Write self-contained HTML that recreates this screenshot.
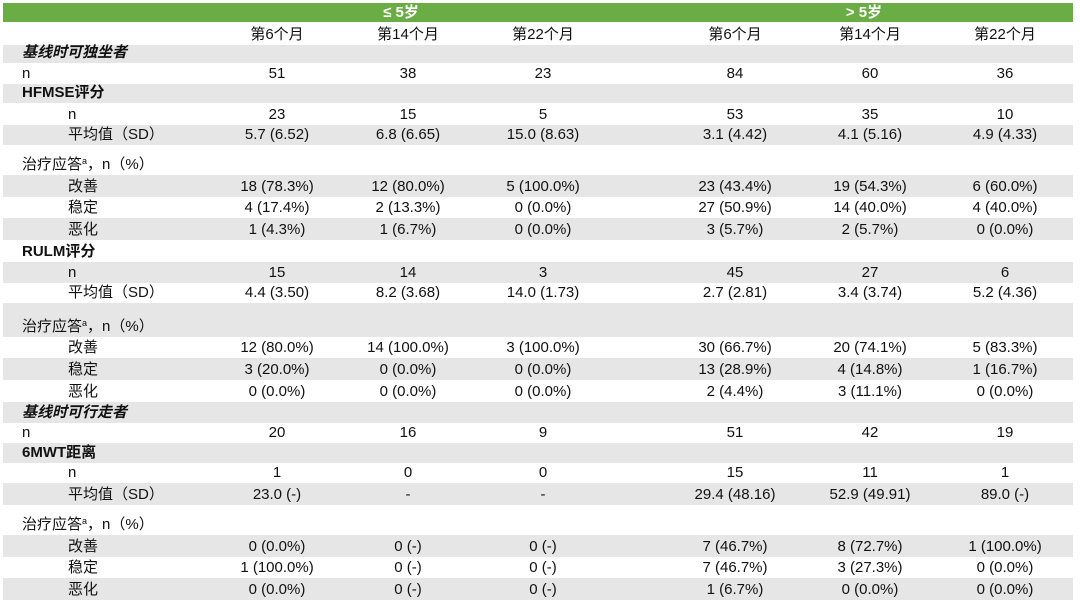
<!DOCTYPE html>
<html><head><meta charset="utf-8">
<style>
body{margin:0;width:1080px;height:606px;background:#fff;overflow:hidden;position:relative;font-family:"Liberation Sans","Noto Sans CJK SC",sans-serif;color:#111;}
.band{position:absolute;left:3px;width:1070px;}
.g{background:#e6e6e6;}
.t{position:absolute;font-size:15px;white-space:nowrap;line-height:20px;}
.c{transform:translateX(-50%);}
.b{font-weight:bold;}
.i{font-weight:bold;font-style:italic;}
#hdr{position:absolute;left:3px;top:3px;width:1070px;height:19px;background:#6aad45;}
.ht{position:absolute;color:#fff;font-weight:bold;font-size:15px;line-height:19px;top:3px;transform:translateX(-50%);}
sup{font-size:9px;vertical-align:top;line-height:12px;}
</style></head><body>
<div id="hdr"></div>
<div class="ht" style="left:401px">≤ 5岁</div>
<div class="ht" style="left:864px">&gt; 5岁</div>
<div id="tbl"></div>
<script>
const cols=[277,408,543,735,870,1005];
const months=["第6个月","第14个月","第22个月","第6个月","第14个月","第22个月"];
// [top,bottom,gray,label,style,indent,values]
const rows=[
[22,45,0,"",0,0,months],
[45,63,1,"基线时可独坐者","i",0,null],
[63,84,0,"n",0,0,["51","38","23","84","60","36"]],
[84,103,1,"HFMSE评分","b",0,null],
[103,125,0,"n",0,1,["23","15","5","53","35","10"]],
[125,145,1,"平均值（SD）",0,1,["5.7 (6.52)","6.8 (6.65)","15.0 (8.63)","3.1 (4.42)","4.1 (5.16)","4.9 (4.33)"]],
[145,175,0,"治疗应答<sup>a</sup>，n（%）",0,0,null],
[175,197,1,"改善",0,1,["18 (78.3%)","12 (80.0%)","5 (100.0%)","23 (43.4%)","19 (54.3%)","6 (60.0%)"]],
[197,218,0,"稳定",0,1,["4 (17.4%)","2 (13.3%)","0 (0.0%)","27 (50.9%)","14 (40.0%)","4 (40.0%)"]],
[218,240,1,"恶化",0,1,["1 (4.3%)","1 (6.7%)","0 (0.0%)","3 (5.7%)","2 (5.7%)","0 (0.0%)"]],
[240,262,0,"RULM评分","b",0,null],
[262,283,1,"n",0,1,["15","14","3","45","27","6"]],
[283,303,0,"平均值（SD）",0,1,["4.4 (3.50)","8.2 (3.68)","14.0 (1.73)","2.7 (2.81)","3.4 (3.74)","5.2 (4.36)"]],
[303,337,1,"治疗应答<sup>a</sup>，n（%）",0,0,null],
[337,358,0,"改善",0,1,["12 (80.0%)","14 (100.0%)","3 (100.0%)","30 (66.7%)","20 (74.1%)","5 (83.3%)"]],
[358,380,1,"稳定",0,1,["3 (20.0%)","0 (0.0%)","0 (0.0%)","13 (28.9%)","4 (14.8%)","1 (16.7%)"]],
[380,402,0,"恶化",0,1,["0 (0.0%)","0 (0.0%)","0 (0.0%)","2 (4.4%)","3 (11.1%)","0 (0.0%)"]],
[402,423,1,"基线时可行走者","i",0,null],
[423,443,0,"n",0,0,["20","16","9","51","42","19"]],
[443,463,1,"6MWT距离","b",0,null],
[463,483,0,"n",0,1,["1","0","0","15","11","1"]],
[483,505,1,"平均值（SD）",0,1,["23.0 (-)","-","-","29.4 (48.16)","52.9 (49.91)","89.0 (-)"]],
[505,535,0,"治疗应答<sup>a</sup>，n（%）",0,0,null],
[535,557,1,"改善",0,1,["0 (0.0%)","0 (-)","0 (-)","7 (46.7%)","8 (72.7%)","1 (100.0%)"]],
[557,578,0,"稳定",0,1,["1 (100.0%)","0 (-)","0 (-)","7 (46.7%)","3 (27.3%)","0 (0.0%)"]],
[578,600,1,"恶化",0,1,["0 (0.0%)","0 (-)","0 (-)","1 (6.7%)","0 (0.0%)","0 (0.0%)"]]
];
const tbl=document.getElementById('tbl');
rows.forEach((r,ri)=>{
  const [top,bot,gray,label,st,ind,vals]=r;
  const band=document.createElement('div');
  band.className='band'+(gray?' g':'');
  band.style.top=top+'px';band.style.height=(bot-top)+'px';
  
  
  tbl.appendChild(band);
  const ty=bot-20;
  if(label){
    const l=document.createElement('div');
    l.className='t'+(st?' '+st:'');
    l.style.left=(ind?68:22)+'px';l.style.top=ty+'px';
    l.innerHTML=label;
    
    
    tbl.appendChild(l);
  }
  if(vals){vals.forEach((v,ci)=>{
    const d=document.createElement('div');
    d.className='t c';
    d.style.left=cols[ci]+'px';d.style.top=ty+'px';
    d.textContent=v;
    
    
    tbl.appendChild(d);
  });}
});
</script>
</body></html>
